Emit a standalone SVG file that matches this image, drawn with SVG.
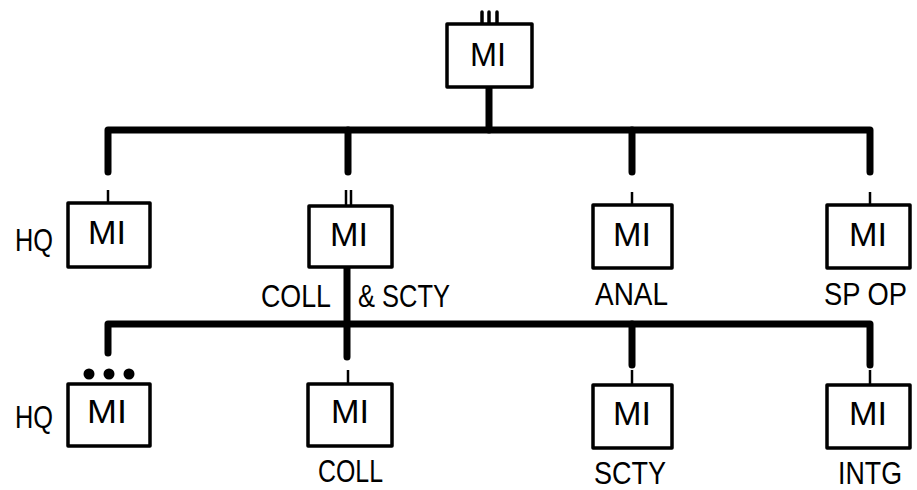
<svg xmlns="http://www.w3.org/2000/svg" width="917" height="490" viewBox="0 0 917 490">
<style>
.box{fill:#fff;stroke:#000;stroke-width:3.5;stroke-linejoin:round}
.bar{fill:none;stroke:#000;stroke-width:7;stroke-linecap:round;stroke-linejoin:round}
.stub{stroke:#000;stroke-width:2.5}
.tick{stroke:#000;stroke-width:3.5;stroke-linecap:round}
.mi{font-family:"Liberation Sans",Arial,sans-serif;font-size:34px;text-anchor:middle;fill:#000}
.lbl{font-family:"Liberation Sans",Arial,sans-serif;font-size:31px;fill:#000}
.hq{font-family:"Liberation Sans",Arial,sans-serif;font-size:32px;fill:#000}
</style>
<rect width="917" height="490" fill="#fff"/>
<g id="connectors">
<path class="bar" d="M489 87 V130"/>
<path class="bar" d="M108 172 V130 H870 V172"/>
<path class="bar" d="M348 130 V172"/>
<path class="bar" d="M632 130 V172"/>
<path class="bar" d="M347 267 V357"/>
<path class="bar" d="M108 353 V324 H870 V365"/>
<path class="bar" d="M632 324 V365"/>
<line class="stub" x1="108" y1="190" x2="108" y2="203"/>
<line class="stub" x1="632" y1="192" x2="632" y2="205"/>
<line class="stub" x1="870" y1="192" x2="870" y2="205"/>
<line class="stub" x1="348" y1="370" x2="348" y2="385"/>
<line class="stub" x1="632" y1="370" x2="632" y2="385"/>
<line class="stub" x1="870" y1="370" x2="870" y2="385"/>
</g>
<g id="n-top">
<line class="tick" x1="482" y1="12" x2="482" y2="25"/>
<line class="tick" x1="489" y1="12" x2="489" y2="25"/>
<line class="tick" x1="497" y1="12" x2="497" y2="25"/>
<rect class="box" x="447" y="24" width="85" height="63"/>
<text class="mi" x="488" y="66" textLength="36" lengthAdjust="spacingAndGlyphs">MI</text>
</g>
<g id="n-hq1">
<rect class="box" x="68" y="203" width="82" height="64"/>
<text class="mi" x="107" y="244" textLength="38" lengthAdjust="spacingAndGlyphs">MI</text>
<text class="hq" x="15" y="251" textLength="38" lengthAdjust="spacingAndGlyphs">HQ</text>
</g>
<g id="n-collscty">
<line class="stub" x1="346" y1="190" x2="346" y2="207"/>
<line class="stub" x1="351" y1="190" x2="351" y2="207"/>
<rect class="box" x="309" y="206" width="83" height="61"/>
<text class="mi" x="349" y="246" textLength="38" lengthAdjust="spacingAndGlyphs">MI</text>
<text class="lbl" x="261" y="307" textLength="70" lengthAdjust="spacingAndGlyphs">COLL</text>
<text class="lbl" x="358" y="307" textLength="92" lengthAdjust="spacingAndGlyphs">&amp; SCTY</text>
</g>
<g id="n-anal">
<rect class="box" x="593" y="205" width="79" height="63"/>
<text class="mi" x="632" y="246" textLength="38" lengthAdjust="spacingAndGlyphs">MI</text>
<text class="lbl" x="595" y="305" textLength="73" lengthAdjust="spacingAndGlyphs">ANAL</text>
</g>
<g id="n-spop">
<rect class="box" x="827" y="205" width="83" height="63"/>
<text class="mi" x="868" y="246" textLength="38" lengthAdjust="spacingAndGlyphs">MI</text>
<text class="lbl" x="824" y="305" textLength="83" lengthAdjust="spacingAndGlyphs">SP OP</text>
</g>
<g id="n-hq2">
<circle cx="89" cy="374" r="5.5"/>
<circle cx="109" cy="374" r="5.5"/>
<circle cx="129" cy="374" r="5.5"/>
<rect class="box" x="68" y="384" width="82" height="62"/>
<text class="mi" x="107" y="423" textLength="40" lengthAdjust="spacingAndGlyphs">MI</text>
<text class="hq" x="15" y="428" textLength="38" lengthAdjust="spacingAndGlyphs">HQ</text>
</g>
<g id="n-coll">
<rect class="box" x="308" y="384" width="84" height="62"/>
<text class="mi" x="350" y="423" textLength="38" lengthAdjust="spacingAndGlyphs">MI</text>
<text class="lbl" x="318" y="482" textLength="65" lengthAdjust="spacingAndGlyphs">COLL</text>
</g>
<g id="n-scty">
<rect class="box" x="593" y="385" width="79" height="63"/>
<text class="mi" x="632" y="425" textLength="38" lengthAdjust="spacingAndGlyphs">MI</text>
<text class="lbl" x="594" y="484" textLength="72" lengthAdjust="spacingAndGlyphs">SCTY</text>
</g>
<g id="n-intg">
<rect class="box" x="827" y="385" width="83" height="63"/>
<text class="mi" x="868" y="425" textLength="38" lengthAdjust="spacingAndGlyphs">MI</text>
<text class="lbl" x="838" y="484" textLength="64" lengthAdjust="spacingAndGlyphs">INTG</text>
</g>
</svg>
